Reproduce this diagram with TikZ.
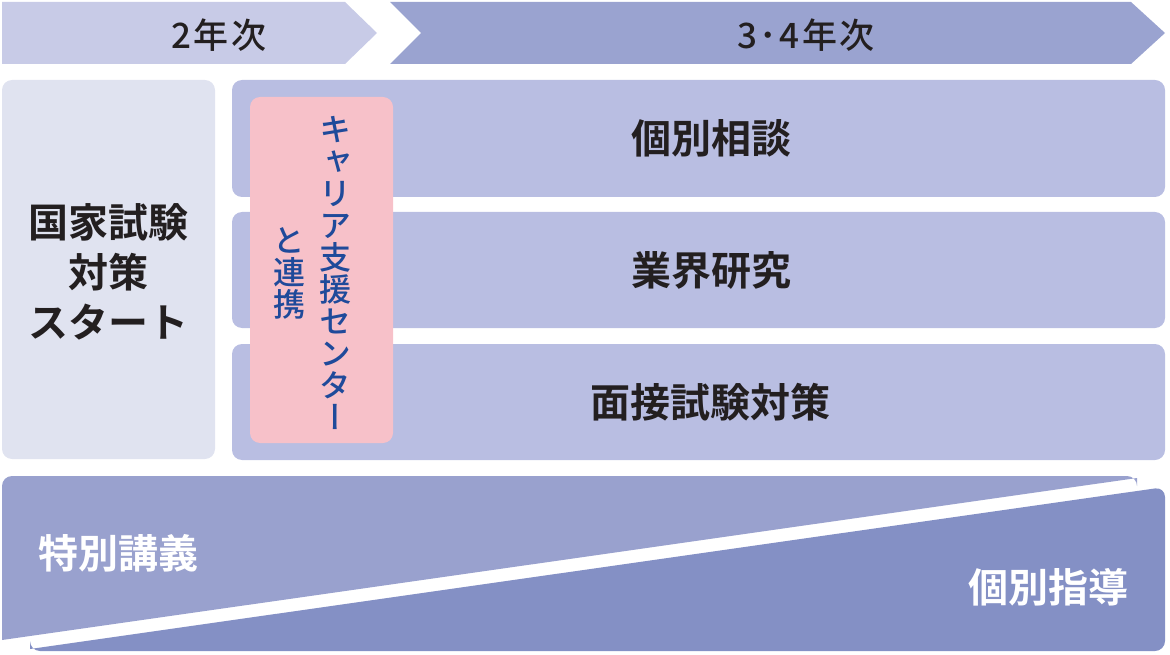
\documentclass[tikz,border=0pt]{standalone}
\usepackage{fontspec}
\setmainfont{Noto Sans CJK JP}
\newfontfamily\jpbold{Noto Sans CJK JP Bold}
\newfontfamily\jpmedls[LetterSpace=7]{Noto Sans CJK JP Medium}
\newfontfamily\vertfont[RawFeature={+vert}]{Noto Sans CJK JP Medium}
\definecolor{bannerA}{HTML}{C8CBE7}
\definecolor{bannerB}{HTML}{9AA3D0}
\definecolor{leftbox}{HTML}{E0E3F0}
\definecolor{rowfill}{HTML}{B9BEE2}
\definecolor{pinkfill}{HTML}{F7C1C9}
\definecolor{lowA}{HTML}{99A1CE}
\definecolor{lowB}{HTML}{8490C5}
\definecolor{txtblue}{HTML}{1F4A9A}
\definecolor{txtdark}{HTML}{231F20}
\tikzset{
  banner/.style={font=\jpmedls\fontsize{35}{38}\selectfont, text=txtdark},
  rowtext/.style={font=\jpbold\fontsize{40}{48}\selectfont, text=txtdark},
  whitetext/.style={font=\jpbold\fontsize{40}{48}\selectfont, text=white},
  verttext/.style={font=\vertfont\fontsize{32}{32}\selectfont, text=txtblue, align=center, inner sep=0pt},
}
\begin{document}
\begin{tikzpicture}[x=1pt,y=-1pt]
\useasboundingbox (0,0) rectangle (1170,655);
% banners
\fill[bannerA] (2,2) -- (345,2) -- (377,33) -- (345,64) -- (2,64) -- cycle;
\fill[bannerB] (390,2) -- (1131,2) -- (1165,33) -- (1131,64) -- (390,64) -- (421,33) -- cycle;
\node[banner] (y2) at (219,35) {2年次};
\node[banner] (y34) at (806,35) {3･4年次};
% left box
\fill[leftbox, rounded corners=10pt] (2,80) rectangle (215,459);
\node[font=\jpbold\fontsize{40}{50}\selectfont, text=txtdark, align=center] (start) at (108,272) {国家試験\\対策\\スタート};
% rows
\fill[rowfill, rounded corners=10pt] (232,80) rectangle (1165,197);
\fill[rowfill, rounded corners=10pt] (232,212) rectangle (1165,328);
\fill[rowfill, rounded corners=10pt] (232,344) rectangle (1165,460);
\node[rowtext] (r1) at (711,138) {個別相談};
\node[rowtext] (r2) at (711,270) {業界研究};
\node[rowtext] (r3) at (710,402) {面接試験対策};
% pink box
\fill[pinkfill, rounded corners=10pt] (250,97) rectangle (393,443);
\node[verttext] (v1) at (335,273) {キ\\ャ\\リ\\ア\\支\\援\\セ\\ン\\タ\\ー};
\node[verttext] (v2) at (289,273) {と\\連\\携};
% bottom
\fill[lowA] (1137,478) -- (2,640) {[rounded corners=10pt] -- (2,476) -- (1137,476)} -- cycle;
\fill[lowB] (30,649) {[rounded corners=10pt] -- (1165,487) -- (1165,651) -- (30,651)} -- cycle;
\node[whitetext] (sp) at (118,553) {特別講義};
\node[whitetext] (ind) at (1048,587) {個別指導};
\end{tikzpicture}
\end{document}
